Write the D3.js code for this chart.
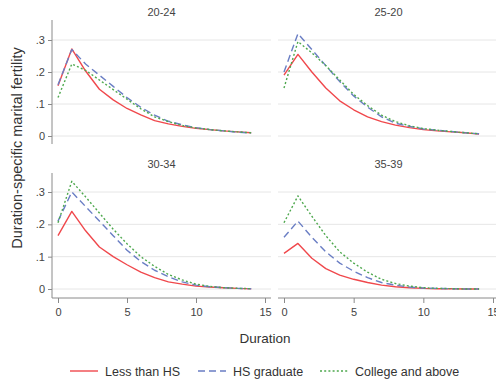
<!DOCTYPE html>
<html><head><meta charset="utf-8">
<script src="https://cdn.jsdelivr.net/npm/d3@7"></script>
<style>body{margin:0;background:#fff}svg{display:block;font-family:"Liberation Sans",Arial,sans-serif}</style>
</head><body><svg id="c" width="496" height="384"></svg>
<script>
const durations = d3.range(0, 15);
const panelTitles = ["20-24", "25-20", "30-34", "35-39"];
const seriesNames = ["Less than HS", "HS graduate", "College and above"];
const yTicks = [0, 0.1, 0.2, 0.3];
const yTickLabels = ["0", ".1", ".2", ".3"];
const xTicks = [0, 5, 10, 15];

const lessHS_2024 = [0.157,0.272,0.203,0.146,0.113,0.086,0.066,0.048,0.038,0.030,0.024,0.020,0.016,0.013,0.010];
const hsGrad_2024 = [0.160,0.270,0.225,0.190,0.155,0.120,0.090,0.065,0.046,0.035,0.026,0.020,0.016,0.012,0.009];
const college_2024 = [0.120,0.225,0.205,0.175,0.145,0.115,0.085,0.060,0.045,0.033,0.025,0.020,0.016,0.013,0.010];

const lessHS_2529 = [0.190,0.255,0.200,0.150,0.110,0.082,0.060,0.045,0.034,0.026,0.020,0.016,0.013,0.010,0.006];
const hsGrad_2529 = [0.200,0.320,0.270,0.220,0.170,0.125,0.090,0.060,0.040,0.030,0.022,0.018,0.014,0.010,0.007];
const college_2529 = [0.150,0.295,0.260,0.220,0.175,0.130,0.095,0.065,0.045,0.032,0.023,0.018,0.014,0.010,0.007];

const lessHS_3034 = [0.165,0.240,0.180,0.130,0.100,0.075,0.052,0.035,0.022,0.015,0.009,0.006,0.004,0.002,0.001];
const hsGrad_3034 = [0.210,0.300,0.255,0.210,0.165,0.120,0.085,0.058,0.038,0.022,0.012,0.007,0.004,0.002,0.001];
const college_3034 = [0.205,0.333,0.285,0.235,0.185,0.140,0.100,0.070,0.045,0.028,0.015,0.008,0.004,0.002,0.001];

const lessHS_3539 = [0.110,0.141,0.095,0.063,0.043,0.030,0.020,0.012,0.007,0.004,0.002,0.001,0.001,0.000,0.000];
const hsGrad_3539 = [0.160,0.210,0.160,0.115,0.080,0.055,0.035,0.020,0.012,0.006,0.003,0.002,0.001,0.000,0.000];
const college_3539 = [0.205,0.288,0.225,0.165,0.115,0.080,0.052,0.030,0.017,0.009,0.004,0.002,0.001,0.000,0.000];

const panelData = [
  [lessHS_2024, hsGrad_2024, college_2024],
  [lessHS_2529, hsGrad_2529, college_2529],
  [lessHS_3034, hsGrad_3034, college_3034],
  [lessHS_3539, hsGrad_3539, college_3539]
];

const colors = ["#f0484c", "#6a7ec4", "#4ea84e"];
const dashes = [null, "7,4", "2,2.2"];
const widths = [1.4, 1.4, 1.4];

const svg = d3.select("#c");
const gridColor = "#e6e6e6", axisColor = "#8a8a8a", textColor = "#444";

const cols = [{x0:52, x1:271, r:[58,265], yAxis:true}, {x0:278, x1:500, r:[284,493], yAxis:false}];
const rows = [{top:20, bot:144, r:[136,40], xAxis:false, titleY:16}, {top:173, bot:298, r:[289,192], xAxis:true, titleY:168}];

panelData.forEach((series, i) => {
  const c = cols[i % 2], rw = rows[Math.floor(i / 2)];
  const x = d3.scaleLinear().domain([0, 15]).range(c.r);
  const y = d3.scaleLinear().domain([0, 0.3]).range(rw.r);
  const g = svg.append("g");
  g.selectAll("line.grid").data(yTicks).join("line")
    .attr("x1", c.x0).attr("x2", c.x1)
    .attr("y1", d => y(d)).attr("y2", d => y(d))
    .attr("stroke", gridColor).attr("stroke-width", 1);
  g.append("text").attr("x", (c.r[0] + c.r[1]) / 2).attr("y", rw.titleY)
    .attr("text-anchor", "middle").attr("font-size", 11).attr("fill", textColor)
    .text(panelTitles[i]);
  if (c.yAxis) {
    const ax = g.append("g").attr("transform", `translate(${c.x0},0)`)
      .call(d3.axisLeft(y).tickValues(yTicks).tickFormat((d, k) => yTickLabels[k]).tickSize(4).tickSizeOuter(0));
    ax.select(".domain").attr("d", `M0,${rw.top}V${rw.bot}`);
    ax.selectAll("line, path").attr("stroke", axisColor);
    ax.selectAll("text").attr("fill", textColor).attr("font-size", 11).attr("font-family", "Liberation Sans, Arial, sans-serif");
  }
  if (rw.xAxis) {
    const ax = g.append("g").attr("transform", `translate(0,${rw.bot})`)
      .call(d3.axisBottom(x).tickValues(xTicks).tickSize(5).tickSizeOuter(0));
    ax.select(".domain").attr("d", `M${c.x0},0H${Math.min(c.x1, 496)}`);
    ax.selectAll("line, path").attr("stroke", axisColor);
    ax.selectAll("text").attr("fill", textColor).attr("font-size", 11).attr("dy", "0.9em").attr("font-family", "Liberation Sans, Arial, sans-serif");
  }
  const line = d3.line().x((d, k) => x(durations[k])).y(d => y(d));
  series.forEach((vals, s) => {
    g.append("path").datum(vals).attr("d", line)
      .attr("fill", "none").attr("stroke", colors[s]).attr("stroke-width", widths[s])
      .attr("stroke-dasharray", dashes[s]).attr("stroke-linejoin", "round");
  });
});

svg.append("text").attr("transform", "translate(22,148) rotate(-90)")
  .attr("text-anchor", "middle").attr("font-size", 14.5).attr("fill", "#333")
  .text("Duration-specific marital fertility");
svg.append("text").attr("x", 265).attr("y", 343).attr("text-anchor", "middle")
  .attr("font-size", 13.5).attr("fill", "#333").text("Duration");

const legendX = [70, 198, 320];
const lg = svg.append("g");
seriesNames.forEach((name, s) => {
  lg.append("line").attr("x1", legendX[s]).attr("x2", legendX[s] + 28)
    .attr("y1", 371).attr("y2", 371).attr("stroke", colors[s]).attr("stroke-width", widths[s])
    .attr("stroke-dasharray", dashes[s]);
  lg.append("text").attr("x", legendX[s] + 35).attr("y", 375.5).attr("font-size", 12.5)
    .attr("fill", "#333").text(name);
});
</script></body></html>
